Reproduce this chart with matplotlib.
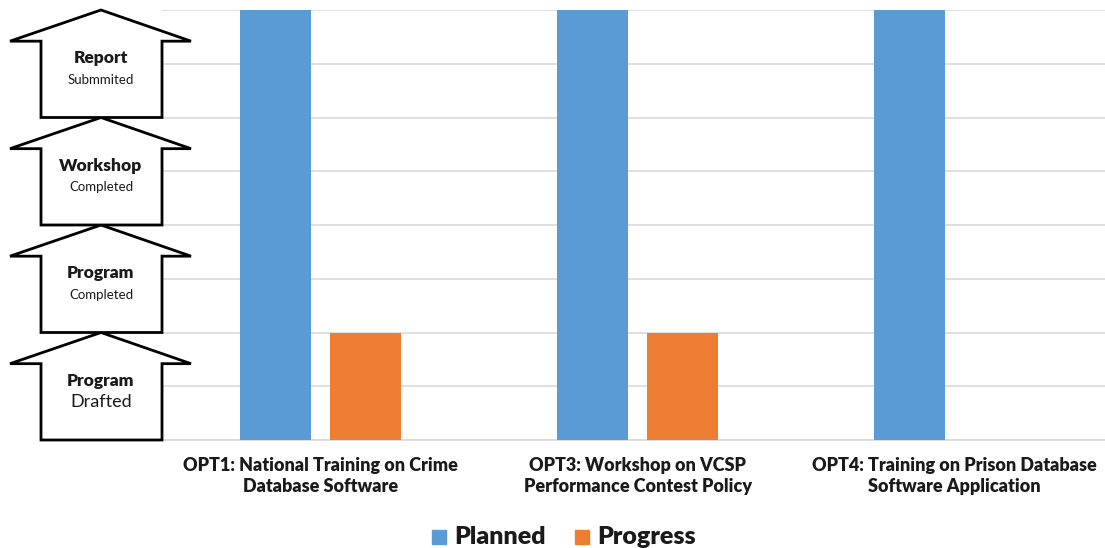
import matplotlib.pyplot as plt
from matplotlib.patches import Polygon
import numpy as np

plt.rcParams['font.family'] = ['Lato', 'DejaVu Sans']

# Activities and their stage reached (1 = drafted ... 4 = report submitted)
categories = ["OPT1: National Training on Crime\nDatabase Software",
              "OPT3: Workshop on VCSP\nPerformance Contest Policy",
              "OPT4: Training on Prison Database\nSoftware Application"]
planned = [4, 4, 4]
progress = [1, 1, 0]

# Milestone arrows, bottom to top
stage_titles = ["Program", "Program", "Workshop", "Report"]
stage_subs = ["Drafted", "Completed", "Completed", "Submmited"]

blue = '#5B9BD5'
orange = '#ED7D31'

W, H = 1105, 548
fig = plt.figure(figsize=(W / 100, H / 100), dpi=100)

# main bar area (pixel layout -> figure fractions)
left, right, bottom, top = 162, 1113, 440, 10
ax = fig.add_axes([left / W, (H - bottom) / H, (right - left) / W, (bottom - top) / H])

x = np.arange(len(categories))
bw = 0.224
off = 0.143
ax.bar(x - off, planned, bw, color=blue, zorder=3)
ax.bar(x + off, progress, bw, color=orange, zorder=3)

ax.set_xlim(-0.5, len(categories) - 0.5)
ax.set_ylim(0, 4)
ax.set_yticks(np.arange(0, 4.01, 0.5))
ax.yaxis.grid(True, color='#D9D9D9', linewidth=1.2, zorder=0)
ax.tick_params(left=False, labelleft=False, bottom=False, labelbottom=False)
for s in ['top', 'right', 'left']:
    ax.spines[s].set_visible(False)
ax.spines['bottom'].set_color('#D9D9D9')
ax.spines['bottom'].set_linewidth(1.2)

for xi, lab in zip(x, categories):
    ax.text(xi, -0.16, lab, ha='center', va='top', fontsize=13, fontweight='heavy',
            color='#1a1a1a', linespacing=1.25, clip_on=False)

# legend
lx, ly = 432, 537
for i, (name, c) in enumerate([("Planned", blue), ("Progress", orange)]):
    px = lx + i * 143
    fig.patches.append(plt.Rectangle((px / W, (H - ly - 7) / H), 14 / W, 14 / H,
                                     color=c, transform=fig.transFigure))
    fig.text((px + 22) / W, (H - ly) / H, name, ha='left', va='center',
             fontsize=18, fontweight='heavy', color='#1a1a1a')

# milestone arrows on the left, same vertical scale as the bars
ax2 = fig.add_axes([0, (H - bottom) / H, 200 / W, (bottom - top) / H])
ax2.set_xlim(0, 200)
ax2.set_ylim(0, 4)
ax2.axis('off')
head = 0.29
for i in range(4):
    b, t = i, i + 1
    pts = [(41, b), (162, b), (162, t - head), (191, t - head), (101, t),
           (10, t - head), (41, t - head)]
    ax2.add_patch(Polygon(pts, closed=True, facecolor='white', edgecolor='black',
                          linewidth=2.0, clip_on=False, zorder=2 + i))
    ax2.text(101, i + 0.55, stage_titles[i], ha='center', va='center',
             fontsize=12.5, fontweight='heavy', color='#1a1a1a', zorder=10)
    ax2.text(101, i + 0.35, stage_subs[i], ha='center', va='center',
             fontsize=13 if i == 0 else 9.5, color='#1a1a1a', zorder=10)

fig.savefig('out.png', dpi=100)
